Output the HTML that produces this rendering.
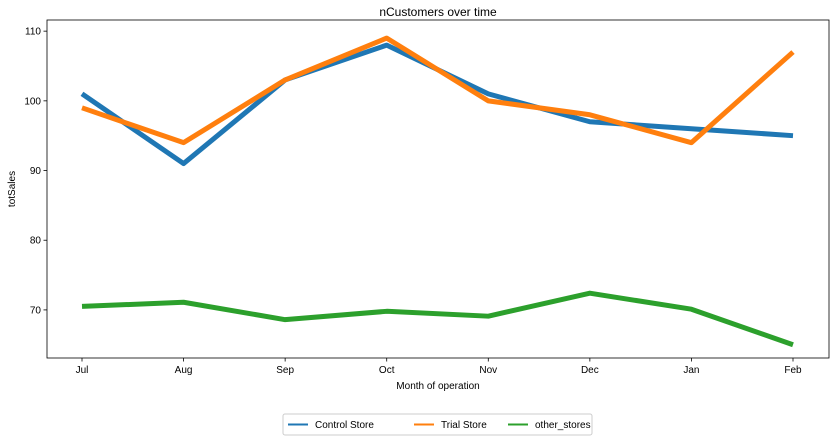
<!DOCTYPE html>
<html><head><meta charset="utf-8"><style>
body{margin:0;background:#fff;font-family:"Liberation Sans","DejaVu Sans",sans-serif;}
svg text{font-family:"Liberation Sans","DejaVu Sans",sans-serif;font-size:10px;fill:#000}
</style></head><body>
<svg id="chart" width="835" height="441"></svg>
<script>
const months=["Jul","Aug","Sep","Oct","Nov","Dec","Jan","Feb"];
const controlStore=[101,91,103,108,101,97,96,95];
const trialStore=[99,94,103,109,100,98,94,107];
const otherStores=[70.5,71.1,68.6,69.8,69.1,72.4,70.1,65.0];
const yTicks=[70,80,90,100,110];
const NS="http://www.w3.org/2000/svg";
const svg=document.getElementById('chart');
const L=47,R=829,T=20,B=358,yMin=63.1,yMax=111.6;
const x=i=>82+i*(793-82)/(months.length-1);
const y=v=>B-(v-yMin)/(yMax-yMin)*(B-T);
function mk(tag,attrs){const e=document.createElementNS(NS,tag);for(const k in attrs)e.setAttribute(k,attrs[k]);svg.appendChild(e);return e;}
const frame=mk('rect',{x:L,y:T,width:R-L,height:B-T,fill:'none',stroke:'#000','stroke-width':0.8});


months.forEach((m,i)=>{
 const t=mk('line',{x1:x(i),x2:x(i),y1:B,y2:B+3.5,stroke:'#000','stroke-width':0.8});
 
 
 const l=mk('text',{x:x(i),y:B+15,'text-anchor':'middle'});l.textContent=m;
 
 
});
yTicks.forEach(v=>{
 const t=mk('line',{x1:L-3.5,x2:L,y1:y(v),y2:y(v),stroke:'#000','stroke-width':0.8});
 
 
 const l=mk('text',{x:L-6,y:y(v)+3.5,'text-anchor':'end'});l.textContent=v;
 
 
});
const series=[[controlStore,'#1f77b4','control-store-line'],[trialStore,'#ff7f0e','trial-store-line'],[otherStores,'#2ca02c','other-stores-line']];
series.forEach(([d,c,n])=>{
 const p=mk('polyline',{points:d.map((v,i)=>x(i)+','+y(v)).join(' '),fill:'none',stroke:c,'stroke-width':5,'stroke-linejoin':'round'});
 
 
});
const title=mk('text',{x:(L+R)/2,y:16,'text-anchor':'middle',style:'font-size:12px'});title.textContent='nCustomers over time';


const xt=mk('text',{x:(L+R)/2,y:389,'text-anchor':'middle'});xt.textContent='Month of operation';


const yt=mk('text',{x:0,y:0,'text-anchor':'middle',transform:`translate(15,${(T+B)/2}) rotate(-90)`});yt.textContent='totSales';


const lg=mk('rect',{x:283,y:414,width:309,height:21,fill:'#fff',stroke:'#ccc',rx:2});


[['Control Store','#1f77b4',288],['Trial Store','#ff7f0e',414],['other_stores','#2ca02c',508]].forEach(([n,c,lx])=>{
 const l=mk('line',{x1:lx,x2:lx+20,y1:424.5,y2:424.5,stroke:c,'stroke-width':2});
 
 
 const t=mk('text',{x:lx+27,y:428});t.textContent=n;
 
 
});
</script>
</body></html>
